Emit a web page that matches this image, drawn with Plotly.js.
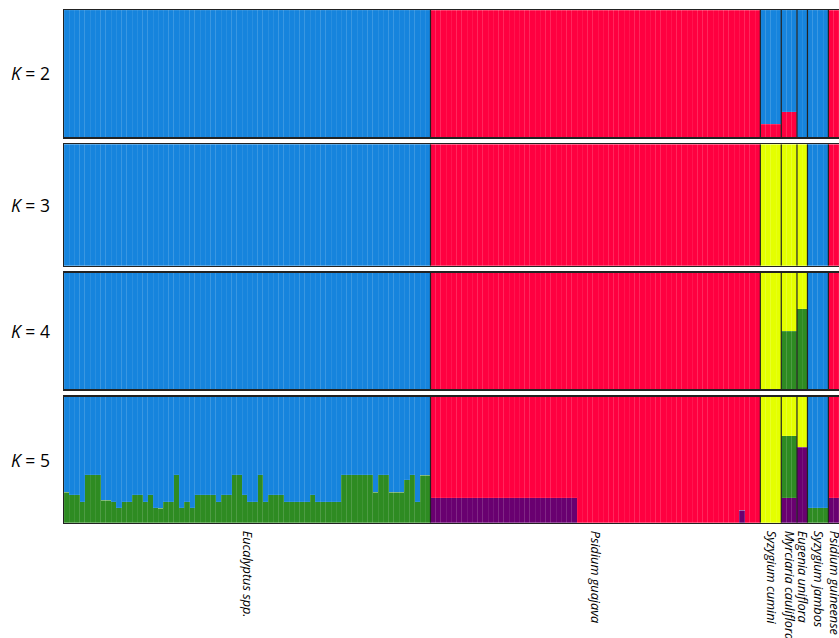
<!DOCTYPE html>
<html>
<head>
<meta charset="utf-8">
<script src="https://cdn.plot.ly/plotly-3.0.1.min.js"></script>
<style>
html,body{margin:0;padding:0;overflow:hidden;background:#fff;}
#chart{width:842px;height:638px;}
</style>
</head>
<body>
<div id="chart"></div>
<script>
// ---- data ----
const groups = ["Eucalyptus spp.", "Psidium guajava", "Syzygium cumini", "Myrciaria cauliflora", "Eugenia uniflora", "Syzygium jambos", "Psidium guineense"];
const groupSizes = [70, 63, 4, 3, 2, 4, 2];
const kLabels = ["2", "3", "4", "5"];
const clusterNames = ["purple", "green", "yellow", "red", "blue"];
const clusterColors = ["#690070", "#2e8b22", "#e4ff00", "#ff0040", "#1684dd"];

// group-level membership (per cluster, per group) for each K
const K2 = {
  purple: [0, 0, 0, 0, 0, 0, 0],
  green:  [0, 0, 0, 0, 0, 0, 0],
  yellow: [0, 0, 0, 0, 0, 0, 0],
  red:    [0, 1, 0.1, 0.2, 0, 0, 1],
  blue:   [1, 0, 0.9, 0.8, 1, 1, 0]
};
const K3 = {
  purple: [0, 0, 0, 0, 0, 0, 0],
  green:  [0, 0, 0, 0, 0, 0, 0],
  yellow: [0, 0, 1, 1, 1, 0, 0],
  red:    [0, 1, 0, 0, 0, 0, 1],
  blue:   [1, 0, 0, 0, 0, 1, 0]
};
const K4 = {
  purple: [0, 0, 0, 0, 0, 0, 0],
  green:  [0, 0, 0, 0.5, 0.69, 0, 0],
  yellow: [0, 0, 1, 0.5, 0.31, 0, 0],
  red:    [0, 1, 0, 0, 0, 0, 1],
  blue:   [1, 0, 0, 0, 0, 1, 0]
};
const K5 = {
  purple: [0, null, 0, 0.2, 0.6, 0, 0.2],
  green:  [null, 0, 0, 0.49, 0, 0.12, 0],
  yellow: [0, 0, 1, 0.31, 0.4, 0, 0],
  red:    [0, null, 0, 0, 0, 0, 0.8],
  blue:   [null, 0, 0, 0, 0, 0.88, 0]
};
// individual-level values at K = 5
const eucalyptusGreenK5 = [0.24,0.22,0.22,0.165,0.38,0.38,0.38,0.18,0.18,0.165,
  0.12,0.165,0.165,0.22,0.22,0.165,0.22,0.12,0.115,0.165,
  0.165,0.38,0.12,0.165,0.12,0.22,0.22,0.22,0.22,0.165,
  0.22,0.22,0.38,0.38,0.22,0.165,0.165,0.38,0.165,0.22,
  0.22,0.22,0.165,0.165,0.165,0.165,0.165,0.22,0.165,0.165,
  0.165,0.165,0.165,0.38,0.38,0.38,0.38,0.38,0.38,0.24,
  0.38,0.38,0.24,0.24,0.24,0.34,0.38,0.165,0.375,0.375];
const guajavaPurpleK5 = [0.2,0.2,0.2,0.2,0.2,0.2,0.2,0.2,0.2,0.2,
  0.2,0.2,0.2,0.2,0.2,0.2,0.2,0.2,0.2,0.2,
  0.2,0.2,0.2,0.2,0.2,0.2,0.2,0.2,0,0,
  0,0,0,0,0,0,0,0,0,0,
  0,0,0,0,0,0,0,0,0,0,
  0,0,0,0,0,0,0,0,0,0.1,
  0,0,0];

// ---- build ----
const total = groupSizes.reduce((a, b) => a + b, 0);
const xs = [];
for (let i = 0; i < total; i++) xs.push(i);

function individualValues(table, cname) {
  const out = [];
  groups.forEach((g, gi) => {
    for (let j = 0; j < groupSizes[gi]; j++) {
      let v = table[cname][gi];
      if (v === null) {
        if (gi === 0) v = (cname === "green") ? eucalyptusGreenK5[j] : 1 - eucalyptusGreenK5[j];
        if (gi === 1) v = (cname === "purple") ? guajavaPurpleK5[j] : 1 - guajavaPurpleK5[j];
      }
      out.push(v);
    }
  });
  return out;
}

const tables = [K2, K3, K4, K5];
const traces = [];
tables.forEach((tb, pi) => {
  clusterNames.forEach((cn, ci) => {
    traces.push({
      type: "bar",
      x: xs,
      y: individualValues(tb, cn),
      width: 1,
      xaxis: "x" + (pi + 1),
      yaxis: "y" + (pi + 1),
      marker: {color: clusterColors[ci], line: {color: "rgba(255,255,255,0.14)", width: 0.6}},
      hoverinfo: "skip",
      name: cn
    });
  });
});

// group centers and boundaries
const centers = [], bounds = [];
let acc = 0;
groupSizes.forEach((s, i) => {
  centers.push(acc + s / 2 - 0.5);
  acc += s;
  if (i < groupSizes.length - 1) bounds.push(acc - 0.5);
});

const W = 842, H = 638;
const panelsPx = [[10, 137], [144.3, 265.7], [272.7, 389.3], [396.7, 522.7]];
const layout = {
  width: W, height: H,
  margin: {l: 0, r: 0, t: 0, b: 0},
  barmode: "stack", bargap: 0,
  showlegend: false,
  paper_bgcolor: "#fff", plot_bgcolor: "#fff",
  font: {family: "Open Sans, sans-serif", color: "#000"},
  shapes: [], annotations: []
};
panelsPx.forEach((p, i) => {
  const n = i + 1;
  layout["xaxis" + n] = {
    domain: [64 / W, 1], range: [-0.5, total - 0.5 + 0.6],
    anchor: "y" + n, showgrid: false, zeroline: false,
    showline: true, mirror: true, linecolor: "#222", linewidth: 1.5,
    ticks: "", showticklabels: n === 4,
    tickmode: "array", tickvals: centers,
    ticktext: groups.map(g => "<i>" + g + "</i>"),
    tickangle: 90, ticklabeloverflow: "allow", ticklabelstandoff: 4,
    tickfont: {size: 12.7, family: "Open Sans, sans-serif", color: "#000"},
    fixedrange: true
  };
  layout["yaxis" + n] = {
    domain: [1 - p[1] / H, 1 - p[0] / H], range: [0, 1],
    anchor: "x" + n, showgrid: false, zeroline: false,
    showline: true, mirror: true, linecolor: "#222", linewidth: 1.5,
    ticks: "", showticklabels: false, fixedrange: true
  };
  bounds.forEach(b => {
    layout.shapes.push({type: "line", xref: "x" + n, yref: "y" + n,
      x0: b, x1: b, y0: 0, y1: 1, line: {color: "#222", width: 1.2}});
  });
  layout.annotations.push({
    xref: "paper", yref: "y" + n, x: 30 / W, y: 0.5,
    xanchor: "center", yanchor: "middle", showarrow: false,
    text: "<i>K</i> = " + kLabels[i],
    font: {size: 17.5, family: "Open Sans, sans-serif", color: "#000"}
  });
});

Plotly.newPlot("chart", traces, layout, {displayModeBar: false, staticPlot: true});
</script>
</body>
</html>
